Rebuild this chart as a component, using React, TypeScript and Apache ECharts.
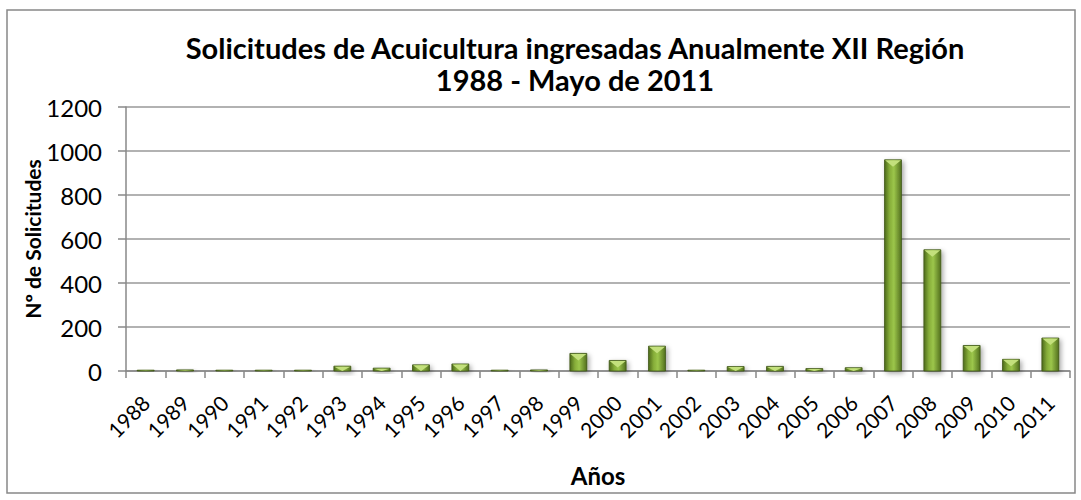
import React, { useEffect, useRef } from "react";
import * as echarts from "echarts";

const years = ["1988","1989","1990","1991","1992","1993","1994","1995","1996","1997","1998","1999","2000","2001","2002","2003","2004","2005","2006","2007","2008","2009","2010","2011"];
const solicitudes = [1, 5, 2, 2, 2, 22, 13, 28, 32, 1, 5, 80, 48, 113, 1, 20, 21, 11, 15, 960, 551, 116, 53, 150];
const yTicks = [0, 200, 400, 600, 800, 1000, 1200];

const FONT = "Lato, 'Open Sans', sans-serif";

export default function App() {
  const ref = useRef<HTMLDivElement>(null);
  useEffect(() => {
    if (!ref.current) return;
    const chart = echarts.init(ref.current, undefined, { renderer: "svg" });
    const bodyGrad = new echarts.graphic.LinearGradient(0, 0, 1, 0, [
      { offset: 0, color: "#4d6a1b" },
      { offset: 0.3, color: "#86ad39" },
      { offset: 0.55, color: "#9cc64b" },
      { offset: 1, color: "#52701e" },
    ]);
    chart.setOption({
      animation: false,
      backgroundColor: "#ffffff",
      title: {
        text: "Solicitudes de Acuicultura ingresadas Anualmente XII Región\n1988 - Mayo de 2011",
        left: 570,
        top: 26,
        textAlign: "center",
        textStyle: { fontFamily: FONT, fontWeight: "bold", fontSize: 29, color: "#000", lineHeight: 32 },
      },
      graphic: [
        {
          type: "rect",
          shape: { x: 7, y: 10, width: 1068, height: 483 },
          style: { fill: "none", stroke: "#888888", lineWidth: 1.5 },
          silent: true,
          z: -1,
        },
      ],
      grid: { left: 126, right: 11, top: 107, bottom: 129, containLabel: false },
      xAxis: {
        type: "category",
        data: years,
        name: "Años",
        nameLocation: "middle",
        nameGap: 92,
        nameMoveOverlap: false,
        nameTextStyle: { fontFamily: FONT, fontWeight: "bold", fontSize: 24, color: "#000" },
        axisLine: { lineStyle: { color: "#888888", width: 1.5 } },
        axisTick: { show: true, length: 7, lineStyle: { color: "#888888", width: 1.5 } },
        axisLabel: { rotate: 45, margin: 28, fontFamily: FONT, fontSize: 21, color: "#000", interval: 0 },
      },
      yAxis: {
        type: "value",
        min: 0,
        max: 1200,
        interval: 200,
        name: "Nº de Solicitudes",
        nameLocation: "middle",
        nameGap: 83,
        nameMoveOverlap: false,
        nameTextStyle: { fontFamily: FONT, fontWeight: "bold", fontSize: 21, color: "#000" },
        axisLine: { show: true, lineStyle: { color: "#888888", width: 1.5 } },
        axisTick: { show: true, length: 8, lineStyle: { color: "#888888", width: 1.5 } },
        axisLabel: {
          margin: 24,
          fontFamily: FONT,
          fontSize: 24,
          color: "#000",
          formatter: (v: number) => (yTicks.includes(v) ? String(v) : ""),
        },
        splitLine: { show: true, lineStyle: { color: "#999999", width: 1.5 } },
      },
      series: [
        {
          type: "custom",
          data: solicitudes.map((v, i) => [i, v]),
          encode: { x: 0, y: 1 },
          renderItem: (params: any, api: any) => {
            const idx = api.value(0);
            const v = api.value(1);
            const top = api.coord([idx, v]);
            const base = api.coord([idx, 0]);
            const w = api.size([1, 0])[0] * 0.43;
            const cx = top[0];
            const x0 = cx - w / 2;
            const x1 = cx + w / 2;
            const h = Math.max(base[1] - top[1], 0.8);
            const ty = base[1] - h;
            const b = Math.min(7, h);
            return {
              type: "group",
              children: [
                {
                  type: "rect",
                  shape: { x: x0, y: ty, width: w, height: h },
                  style: {
                    fill: bodyGrad,
                    stroke: "#3e5614",
                    lineWidth: 0.8,
                    shadowBlur: 5,
                    shadowOffsetX: 2,
                    shadowOffsetY: 2,
                    shadowColor: "rgba(0,0,0,0.35)",
                  },
                },
                {
                  type: "polygon",
                  shape: { points: [[x0 + 0.5, ty + 0.5], [x1 - 0.5, ty + 0.5], [cx, ty + b]] },
                  style: { fill: "#c3e07c" },
                },
              ],
            };
          },
        },
      ],
    });
    return () => chart.dispose();
  }, []);
  return <div ref={ref} style={{ width: 1081, height: 500, position: "absolute", left: 0, top: 0 }} />;
}
